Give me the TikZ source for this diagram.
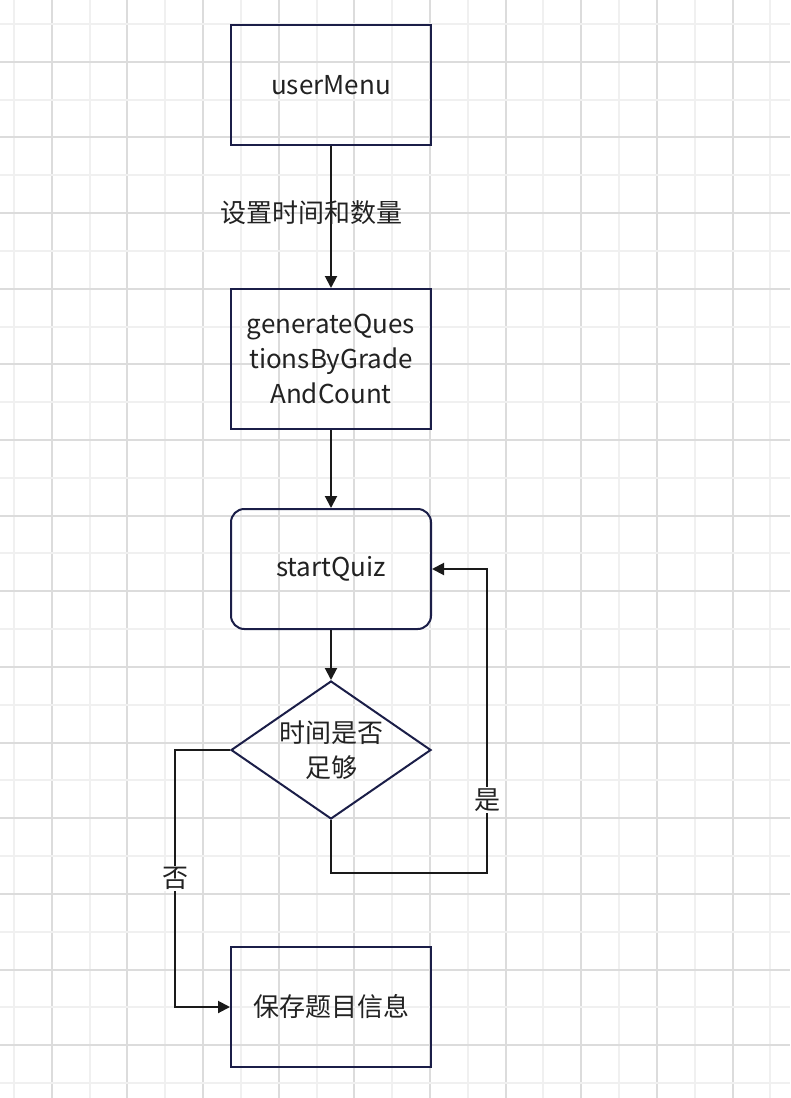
\documentclass[tikz,border=0pt]{standalone}
\usepackage{fontspec}
\setmainfont{Noto Sans CJK SC}
\usetikzlibrary{shapes.geometric}
\usetikzlibrary{arrows.meta}
\definecolor{boxline}{HTML}{1B1E48}
\definecolor{arrline}{HTML}{1A1A1A}
\definecolor{txt}{HTML}{222222}
\definecolor{gridlight}{HTML}{F0F0F0}
\definecolor{griddark}{HTML}{DCDCDC}
\tikzset{%
  every node/.style={font=\fontsize{19.5pt}{26pt}\selectfont, text=txt},
  stepbox/.style={draw=boxline, line width=1.5pt, minimum width=150pt, minimum height=90pt, inner sep=0pt, align=center},
  roundbox/.style={stepbox, rounded corners=10pt},
  decision/.style={diamond, draw=boxline, line width=1.5pt, minimum width=150pt, minimum height=103.5pt, aspect=1.45, inner sep=0pt, align=center},
  flow/.style={draw=arrline, line width=1.5pt, -{Triangle[length=9pt,width=9pt]}},
  edgelabel/.style={fill=white, inner sep=1pt}}
\begin{document}
\begin{tikzpicture}[x=0.75pt, y=-0.75pt]
\useasboundingbox (0,0) rectangle (790,1098);
% grid
\foreach \k in {0,...,20} {
  \pgfmathsetmacro{\gx}{14+37.82*\k}
  \ifodd\k \def\gc{griddark}\else \def\gc{gridlight}\fi
  \draw[\gc, line width=1.5pt] (\gx,0) -- (\gx,1098);
}
\foreach \k in {0,...,28} {
  \pgfmathsetmacro{\gy}{24+37.82*\k}
  \ifodd\k \def\gc{griddark}\else \def\gc{gridlight}\fi
  \draw[\gc, line width=1.5pt] (0,\gy) -- (790,\gy);
}
% nodes
\node[stepbox] (menu) at (331,85) {userMenu};
\node[stepbox, minimum height=105pt] (gen) at (331,359) {generateQues\\tionsByGrade\\AndCount};
\node[roundbox] (quiz) at (331,569) {startQuiz};
\node[decision] (enough) at (331,750) {时间是否\\足够};
\node[stepbox] (save) at (331,1007) {保存题目信息};
\coordinate (loopa) at (487,873);
\coordinate (loopb) at (175,750);
% connectors
\draw[flow] (menu) -- node[pos=0.47, xshift=-15pt] {设置时间和数量} (gen);
\draw[flow] (gen) -- (quiz);
\draw[flow] (quiz) -- (enough);
\draw[flow] (enough.south) |- (loopa) |- node[pos=0.12, edgelabel] {是} (quiz.east);
\draw[flow] (enough.west) -- (loopb) |- node[pos=0.25, edgelabel] {否} (save.west);
\end{tikzpicture}
\end{document}
